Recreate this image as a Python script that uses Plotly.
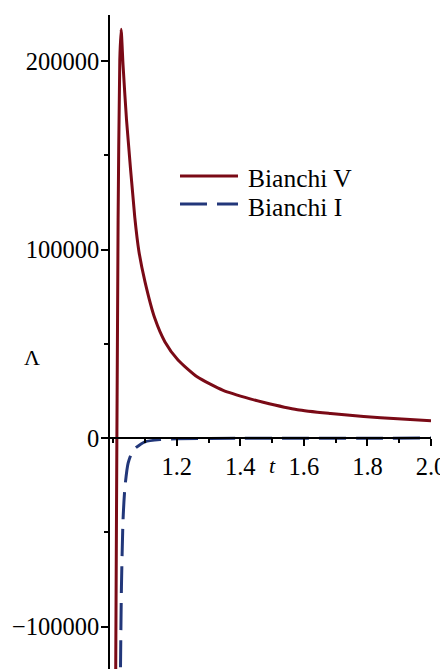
import plotly.graph_objects as go

# Bianchi V curve (t, Lambda)
t_v = [1.005, 1.008, 1.0155, 1.0208, 1.025, 1.031, 1.042, 1.068, 1.081, 1.100, 1.131,
       1.163, 1.204, 1.264, 1.346, 1.431, 1.472, 1.580, 1.684, 1.788, 1.895, 2.0]
lam_v = [-220000, -122500, 115600, 200500, 216800, 198000, 168700, 117000, 99000, 83000, 63500,
         51000, 41400, 32500, 25300, 20800, 19000, 15000, 13000, 11400, 10200, 9200]

# Bianchi I curve
t_i = [1.020, 1.023, 1.026, 1.031, 1.037, 1.047, 1.063, 1.100, 1.150, 1.200,
       1.400, 1.600, 1.800, 2.000]
lam_i = [-200000, -122500, -79000, -43500, -26000, -13300, -6400, -2000, -800, -400,
         -150, -80, -50, -30]

x_ticks = [1.2, 1.4, 1.6, 1.8, 2.0]
x_minor = [1.0, 1.1, 1.3, 1.5, 1.7, 1.9]
y_ticks = [-100000, 0, 100000, 200000]
y_minor = [-50000, 50000, 150000]

RED = "#7A0A16"
BLUE = "#22377A"
FONT = "Liberation Serif, 'Times New Roman', Times, 'DejaVu Serif', serif"

xmin, xmax = 0.99, 2.0
ymin, ymax = -122500, 224400

fig = go.Figure()
fig.add_trace(go.Scatter(x=t_v, y=lam_v, mode="lines", name="Bianchi V",
                         line=dict(color=RED, width=3, shape="spline", smoothing=0.6)))
fig.add_trace(go.Scatter(x=t_i, y=lam_i, mode="lines", name="Bianchi I",
                         line=dict(color=BLUE, width=3, dash="27px,10px", shape="spline", smoothing=0.6)))

# page has an 8px body margin; compensate so the plot lands where intended
OFF = 8
PAGE_W, PAGE_H = 448, 669
PL, PR, PT = 110, 431, 15          # plot area in page pixels (left, right, top); bottom = 669
W, H = PAGE_W - OFF, PAGE_H - OFF
L, T = PL - OFF, PT - OFF
R = W - (PR - OFF)
B = 0
pw, ph = PR - PL, PAGE_H - PT

def px(x):
    return (x - PL) / pw

def py(y):
    return (PAGE_H - y) / ph

# manual legend
fig.add_shape(type="line", xref="paper", yref="paper", x0=px(180), x1=px(238), y0=py(176), y1=py(176),
              line=dict(color=RED, width=3))
fig.add_shape(type="line", xref="paper", yref="paper", x0=px(180), x1=px(238), y0=py(204), y1=py(204),
              line=dict(color=BLUE, width=3, dash="27px,10px"))
fig.add_annotation(text="Bianchi V", xref="paper", yref="paper", x=px(246), y=py(178),
                   xanchor="left", yanchor="middle", showarrow=False,
                   font=dict(family=FONT, size=25.5, color="black"))
fig.add_annotation(text="Bianchi I", xref="paper", yref="paper", x=px(246), y=py(207),
                   xanchor="left", yanchor="middle", showarrow=False,
                   font=dict(family=FONT, size=25.5, color="black"))

# axis labels
fig.add_annotation(text="Λ", xref="paper", yref="paper", x=px(32), y=py(357),
                   xanchor="center", yanchor="middle", showarrow=False,
                   font=dict(family=FONT, size=22, color="black"))
fig.add_annotation(text="<i>t</i>", xref="paper", yref="paper", x=px(272), y=py(465),
                   xanchor="center", yanchor="middle", showarrow=False,
                   font=dict(family=FONT, size=22, color="black"))

fig.update_layout(
    width=W, height=H,
    margin=dict(l=L, r=R, t=T, b=B, pad=0),
    paper_bgcolor="white", plot_bgcolor="white",
    showlegend=False,
    font=dict(family=FONT, size=24, color="black"),
    xaxis=dict(range=[xmin, xmax], showgrid=False, zeroline=False,
               anchor="free", position=(0 - ymin) / (ymax - ymin),
               showline=True, linecolor="black", linewidth=1.5,
               tickmode="array", tickvals=x_ticks, ticktext=[f"{v:.1f}" for v in x_ticks],
               ticks="outside", ticklen=7, tickwidth=1.5, tickcolor="black",
               minor=dict(tickmode="array", tickvals=x_minor, ticks="outside", ticklen=4,
                          tickwidth=1.5, tickcolor="black", showgrid=False),
               tickfont=dict(family=FONT, size=24.5, color="black"),
               automargin=False),
    yaxis=dict(range=[ymin, ymax], showgrid=False, zeroline=False,
               showline=True, linecolor="black", linewidth=1.5,
               tickmode="array", tickvals=y_ticks, ticktext=[str(v).replace("-", "−") for v in y_ticks],
               ticks="outside", ticklen=7, tickwidth=1.5, tickcolor="black",
               ticklabelstandoff=-3,
               minor=dict(tickmode="array", tickvals=y_minor, ticks="outside", ticklen=4,
                          tickwidth=1.5, tickcolor="black", showgrid=False),
               tickfont=dict(family=FONT, size=24.5, color="black"),
               automargin=False),
)

fig.write_html("out.html")
